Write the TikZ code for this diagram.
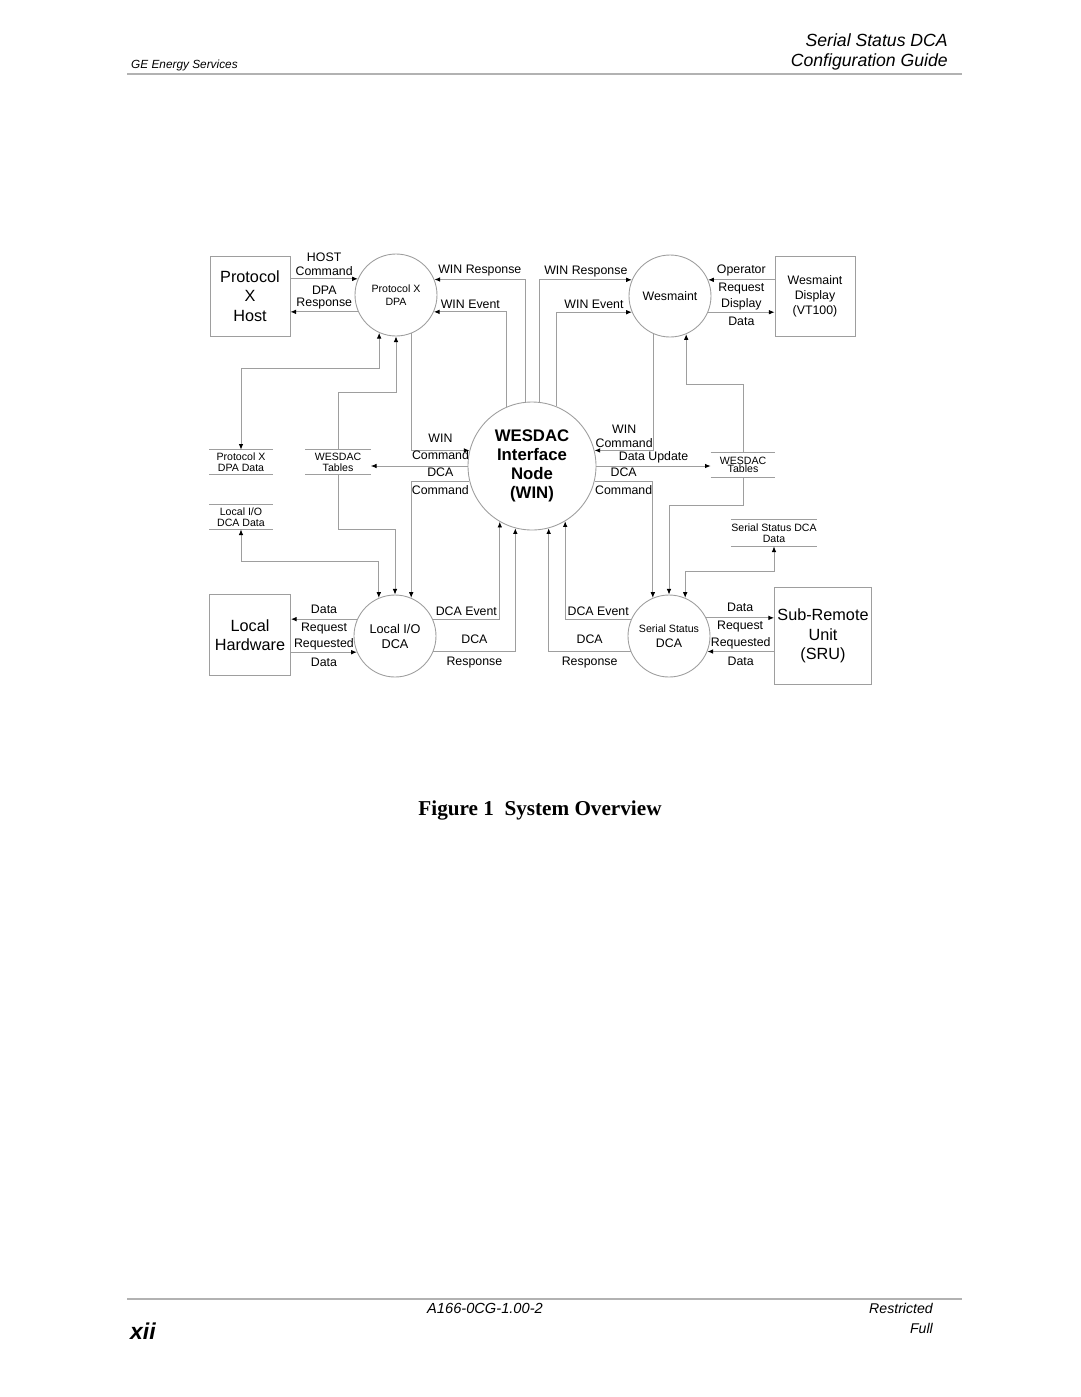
\documentclass[tikz,border=0pt]{standalone}
\usepackage{fontspec}
\setmainfont{Liberation Sans}
\newfontfamily\capfont{Liberation Serif}
\usetikzlibrary{arrows.meta, calc}
\newlength\pxl
\setlength\pxl{0.5667pt}

\begin{document}
\begin{tikzpicture}[
  x=\pxl, y=-\pxl,
  >={Latex[length=3.2pt, width=2.6pt, color=black]},
  line/.style={draw=black!38, line width=0.5pt},
  arr/.style={line, ->},
  darr/.style={line, <->},
  box/.style={rectangle, draw=black!38, line width=0.5pt, minimum width=#1,
    minimum height=#1, align=center, inner sep=0pt,
    font=\fontsize{9.2}{11}\selectfont},
  proc/.style={circle, draw=black!38, line width=0.5pt, minimum size=#1,
    align=center, inner sep=0pt},
  proc/.default=82*\pxl,
  store/.style={minimum width=#1, minimum height=24*\pxl, inner sep=0pt,
    align=center, font=\fontsize{6}{6.3}\selectfont},
  lbl/.style={font=\fontsize{7}{7.8}\selectfont, align=center, inner sep=1.5pt},
  pair/.style={font=\fontsize{7}{#1}\selectfont, align=center, inner sep=0pt},
  pair/.default=10.2,
]
\useasboundingbox (0,0) rectangle (1080,1397);

% --- Page header ---
\node[font=\fontsize{10}{11.4}\selectfont\itshape, align=right, anchor=east]
  (ttl) at (954,52) {Serial Status DCA\\Configuration Guide};
\node[font=\fontsize{6.7}{8}\selectfont\itshape, anchor=west] (co) at (125,65)
  {GE Energy Services};
\draw[black!30, line width=1.2pt] (127,74) -- (962,74);

% --- Processes ---
\node[proc, font=\fontsize{6}{7.5}\selectfont] (dpa) at (396,295) {Protocol X\\DPA};
\node[proc, font=\fontsize{7}{8}\selectfont] (wes) at (670,296) {Wesmaint};
\node[proc=128*\pxl, font=\fontsize{9.5}{10.8}\selectfont\bfseries] (win)
  at (532,466) {WESDAC\\Interface\\Node\\(WIN)};
\node[proc, font=\fontsize{7.2}{8.5}\selectfont] (lio) at (395,636) {Local I/O\\DCA};
\node[proc, font=\fontsize{6}{8.5}\selectfont] (ssd) at (669,636)
  {Serial Status\\\fontsize{7}{8.5}\selectfont DCA};

% --- External boxes ---
\node[box=80*\pxl] (host) at (250,296) {Protocol\\X\\Host};
\node[box=80*\pxl, font=\fontsize{7}{8.5}\selectfont] (disp) at (815,296)
  {Wesmaint\\Display\\(VT100)};
\node[box=81*\pxl] (lhw) at (250,635) {Local\\Hardware};
\node[box=97*\pxl] (sru) at (823,636) {Sub-Remote\\Unit\\(SRU)};

% --- Data stores ---
\node[store=63*\pxl] (pxd) at (241,462) {Protocol X\\DPA Data};
\node[store=65*\pxl] (wtl) at (338,462) {WESDAC\\Tables};
\node[store=63*\pxl] (lid) at (241,517) {Local I/O\\DCA Data};
\node[store=64*\pxl, font=\fontsize{6}{4.5}\selectfont] (wtr) at (743,465)
  {WESDAC\\Tables};
\node[store=82*\pxl, minimum height=26*\pxl] (ssdd) at (774,533)
  {Serial Status DCA\\Data};
\foreach \s in {pxd,wtl,lid,wtr,ssdd}
  \draw[line] (\s.north west) -- (\s.north east) (\s.south west) -- (\s.south east);

% --- Host / display flows ---
\draw[arr] (host.east |- dpa.157) -- node[lbl, above] {HOST\\Command} (dpa.157);
\draw[arr] (dpa.204) -- node[lbl, above, font=\fontsize{7}{6.5}\selectfont]
  {DPA\\Response} (host.east |- dpa.204);
\draw[arr] (disp.west |- wes.23) -- node[pair] {Operator\\Request} (wes.23);
\draw[arr] (wes.-23) -- node[pair] {Display\\Data} (disp.west |- wes.-23);

% --- WIN to upper processes ---
\draw[arr] (win.96) |- node[lbl, above, pos=0.75] {WIN Response} (dpa.22);
\draw[arr] (win.113) |- node[lbl, above, pos=0.75] {WIN Event} (dpa.-24);
\draw[arr] (win.83) |- node[lbl, above, pos=0.75] {WIN Response} (wes.157);
\draw[arr] (win.68) |- node[lbl, above, pos=0.75] {WIN Event} (wes.203);

% --- Commands into and out of WIN ---
\draw[arr] (dpa.-68) |- node[pair=9.6, pos=0.75, yshift=2pt] {WIN\\Command} (win.166);
\draw[arr] (win.west) -- (win.west -| wtl.east);
\draw[arr] (win.194) -| node[pair, pos=0.25] {DCA\\Command} (lio.67);
\draw[arr] (wes.247) |- node[lbl, above, pos=0.75] {WIN\\Command} (win.14);
\draw[arr] (win.east) -- node[lbl, above] {Data Update} (win.east -| wtr.west);
\draw[arr] (win.-14) -| node[pair, pos=0.25] {DCA\\Command} (ssd.113);

% --- Data store links ---
\draw[darr] (pxd.north) -- ++(0,-81) -| (dpa.246);
\draw[arr] (wtl.north) -- ++(0,-57) -| (dpa.south);
\draw[arr] (wtl.south) -- ++(0,55) -| (lio.north);
\draw[darr] (lid.south) -- ++(0,32) -| (lio.113);
\draw[arr] (wtr.north) -- ++(0,-68) -| (wes.293);
\draw[arr] (wtr.south) -- ++(0,28) -| (ssd.north);
\draw[darr] (ssdd.south) -- ++(0,25) -| (ssd.67);

% --- DCA events and responses ---
\draw[arr] (lio.24) -| node[lbl, above, pos=0.25] {DCA Event} (win.240);
\draw[arr] (lio.-22) -| node[pair=12.5, pos=0.25] {DCA\\Response} (win.255);
\draw[arr] (ssd.156) -| node[lbl, above, pos=0.25] {DCA Event} (win.301);
\draw[arr] (ssd.202) -| node[pair=12, pos=0.25] {DCA\\Response} (win.285);

% --- Hardware flows ---
\draw[arr] (lio.156) -- node[pair] {Data\\Request} (lhw.east |- lio.156);
\draw[arr] (lhw.east |- lio.203) -- node[pair=10.8] {Requested\\Data} (lio.203);
\draw[arr] (ssd.26) -- node[pair] {Data\\Request} (sru.west |- ssd.26);
\draw[arr] (sru.west |- ssd.-22) -- node[pair=10.8] {Requested\\Data} (ssd.-22);

% --- Caption and footer ---
\node[font=\capfont\bfseries\fontsize{12}{14}\selectfont] (cap) at (540,810)
  {Figure 1\enspace System Overview};
\draw[black!30, line width=1.2pt] (127,1299) -- (962,1299);
\node[font=\fontsize{8.3}{10}\selectfont\itshape] (doc) at (485,1308) {A166-0CG-1.00-2};
\node[font=\fontsize{8}{10}\selectfont\itshape, anchor=east] (rst) at (939,1308) {Restricted};
\node[font=\fontsize{8}{10}\selectfont\itshape, anchor=east] (full) at (939,1328) {Full};
\node[font=\fontsize{13}{15}\selectfont\bfseries\itshape, anchor=west] (pg) at (124,1331) {xii};

\end{tikzpicture}
\end{document}
